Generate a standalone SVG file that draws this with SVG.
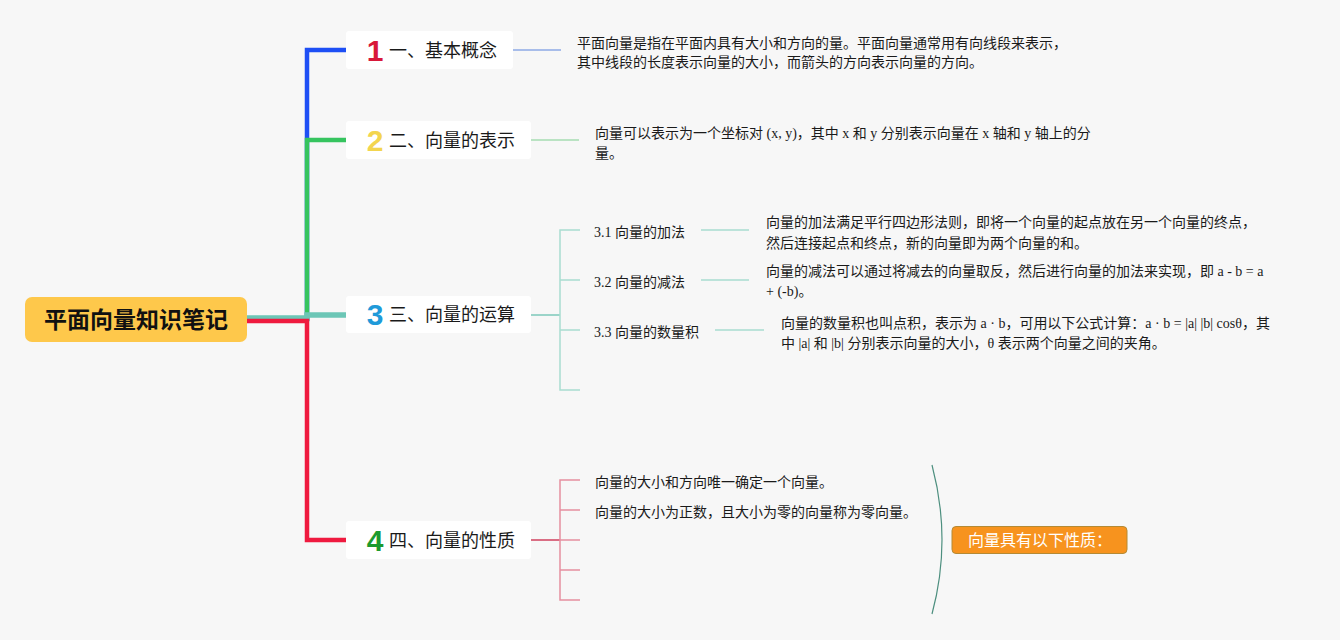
<svg xmlns="http://www.w3.org/2000/svg" width="1340" height="640" viewBox="0 0 1340 640">
  <style>
    .bg{fill:#f7f7f7}
    .node{fill:#ffffff}
    .lbl{font-family:"Noto Sans CJK SC","Noto Sans",sans-serif;font-size:18px;fill:#1a1a1a}
    .num{font-family:"Liberation Sans","Noto Sans",sans-serif;font-size:30px;font-weight:bold;text-anchor:middle}
    .desc{font-family:"Liberation Serif","Noto Sans CJK SC",serif;font-size:14px;fill:#1a1a1a}
    .sub{font-family:"Liberation Serif","Noto Sans CJK SC",serif;font-size:14px;fill:#1a1a1a}
    .main{fill:none;stroke-linejoin:miter}
    .thin{fill:none;stroke-width:1.5}
  </style>
  <rect class="bg" x="0" y="0" width="1340" height="640"/>

  <g id="connectors">
    <path class="main" d="M247,319 H307 V50 H346" stroke="#1e4ff5" stroke-width="4.5"/>
    <path class="main" d="M247,319 H307 V140 H346" stroke="#36c45f" stroke-width="4.5"/>
    <path class="main" d="M247,318 H307 V315 H346" stroke="#6cc6b6" stroke-width="5.5"/>
    <path class="main" d="M247,321 H307 V540 H346" stroke="#ef1a3f" stroke-width="4.5"/>

    <path class="thin" d="M513,50 H561" stroke="#8eaae6"/>
    <path class="thin" d="M531,140 H579" stroke="#a6dcb2"/>

    <path class="thin" d="M531,315 H560" stroke="#7cc9ba"/>
    <path class="thin" d="M580,230 H560 V390 H580 M560,280 H580 M560,330 H580" stroke="#a9ddd1"/>
    <path class="thin" d="M701,230 H749 M701,280 H749 M715,330 H764" stroke="#a9ddd1"/>

    <path class="thin" d="M531,540 H560" stroke="#d0405e"/>
    <path class="thin" d="M580,480 H560 V600 H580 M560,510 H580 M560,540 H580 M560,570 H580" stroke="#e690a0"/>

    <path d="M932,465 Q952,540 932,614" fill="none" stroke="#4d8f7f" stroke-width="1.2"/>
  </g>

  <g id="root">
    <rect x="25" y="297" width="222" height="45" rx="7" fill="#fec84b"/>
    <text x="136" y="328" text-anchor="middle" font-family="'Noto Sans CJK SC','Noto Sans',sans-serif" font-size="23" font-weight="bold" fill="#111">平面向量知识笔记</text>
  </g>

  <g id="node1">
    <rect class="node" x="346" y="31" width="167" height="38" rx="3"/>
    <text class="num" x="375" y="61" fill="#d8183a">1</text>
    <text class="lbl" x="389" y="57">一、基本概念</text>
  </g>
  <g id="node2">
    <rect class="node" x="346" y="121" width="185" height="38" rx="3"/>
    <text class="num" x="375" y="151" fill="#f3d54e">2</text>
    <text class="lbl" x="389" y="147">二、向量的表示</text>
  </g>
  <g id="node3">
    <rect class="node" x="346" y="296" width="185" height="37" rx="3"/>
    <text class="num" x="375" y="325" fill="#1f9ad9">3</text>
    <text class="lbl" x="389" y="321">三、向量的运算</text>
  </g>
  <g id="node4">
    <rect class="node" x="346" y="521" width="185" height="38" rx="3"/>
    <text class="num" x="375" y="551" fill="#1c9a2e">4</text>
    <text class="lbl" x="389" y="547">四、向量的性质</text>
  </g>

  <g id="desc1">
    <text class="desc" x="577" y="48">平面向量是指在平面内具有大小和方向的量。平面向量通常用有向线段来表示，</text>
    <text class="desc" x="577" y="67">其中线段的长度表示向量的大小，而箭头的方向表示向量的方向。</text>
  </g>
  <g id="desc2">
    <text class="desc" x="595" y="138">向量可以表示为一个坐标对 (x, y)，其中 x 和 y 分别表示向量在 x 轴和 y 轴上的分</text>
    <text class="desc" x="595" y="158">量。</text>
  </g>

  <g id="sub31"><text class="sub" x="594" y="237">3.1 向量的加法</text></g>
  <g id="sub32"><text class="sub" x="594" y="287">3.2 向量的减法</text></g>
  <g id="sub33"><text class="sub" x="594" y="337">3.3 向量的数量积</text></g>

  <g id="desc31">
    <text class="desc" x="766" y="227">向量的加法满足平行四边形法则，即将一个向量的起点放在另一个向量的终点，</text>
    <text class="desc" x="766" y="248">然后连接起点和终点，新的向量即为两个向量的和。</text>
  </g>
  <g id="desc32">
    <text class="desc" x="766" y="276">向量的减法可以通过将减去的向量取反，然后进行向量的加法来实现，即 a - b = a</text>
    <text class="desc" x="766" y="296">+ (-b)。</text>
  </g>
  <g id="desc33">
    <text class="desc" x="781" y="328">向量的数量积也叫点积，表示为 a · b，可用以下公式计算：a · b = |a| |b| cosθ，其</text>
    <text class="desc" x="781" y="348">中 |a| 和 |b| 分别表示向量的大小，θ 表示两个向量之间的夹角。</text>
  </g>

  <g id="prop1"><text class="desc" x="595" y="487">向量的大小和方向唯一确定一个向量。</text></g>
  <g id="prop2"><text class="desc" x="595" y="517">向量的大小为正数，且大小为零的向量称为零向量。</text></g>

  <g id="summary">
    <rect x="952" y="526.5" width="175" height="27" rx="4" fill="#f7931e" stroke="#b48a35" stroke-width="1"/>
    <text x="968" y="546" font-family="'Noto Sans CJK SC','Noto Sans',sans-serif" font-size="16" fill="#ffffff">向量具有以下性质：</text>
  </g>
</svg>
